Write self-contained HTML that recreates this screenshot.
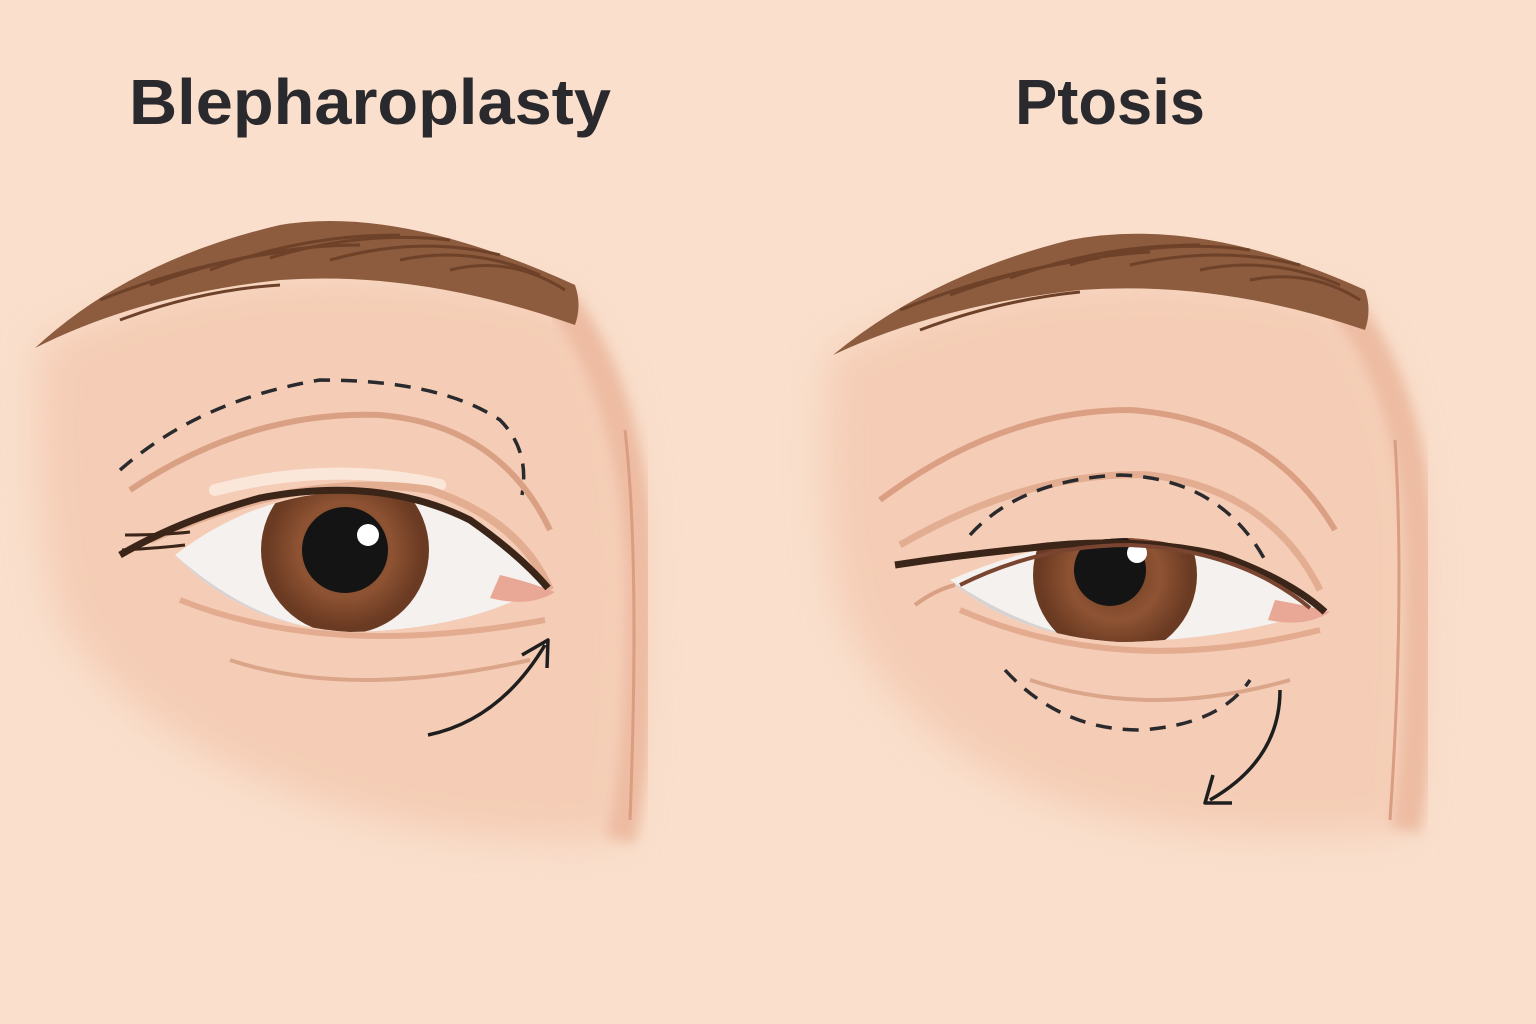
<!DOCTYPE html>
<html><head><meta charset="utf-8"><style>
html,body{margin:0;padding:0;background:#f9dfcc;}
svg{display:block}
</style></head><body>
<svg width="1536" height="1024" viewBox="0 0 1536 1024" xmlns="http://www.w3.org/2000/svg">
<defs>
<filter id="blur" x="-20%" y="-20%" width="140%" height="140%"><feGaussianBlur stdDeviation="18"/></filter>
<filter id="blur2"><feGaussianBlur stdDeviation="6"/></filter>
<radialGradient id="iris" cx="50%" cy="50%" r="50%">
<stop offset="0" stop-color="#6b3a22"/><stop offset="0.6" stop-color="#8e5333"/><stop offset="1" stop-color="#6a3a22"/>
</radialGradient>
<clipPath id="eyeL"><path d="M175,555 Q260,490 360,492 Q470,500 545,585 Q470,630 350,632 Q240,625 175,555Z"/></clipPath>
<clipPath id="eyeR"><path d="M950,580 Q1040,540 1130,538 Q1230,545 1320,610 Q1230,640 1120,642 Q1010,635 950,580Z"/></clipPath>
</defs>
<rect width="1536" height="1024" fill="#f9dfcc"/>
<text x="370" y="124" font-family="Liberation Sans, sans-serif" font-size="64" fill="#2a2a2e" text-anchor="middle" font-weight="bold" textLength="482" lengthAdjust="spacingAndGlyphs">Blepharoplasty</text>
<text x="1110" y="124" font-family="Liberation Sans, sans-serif" font-size="64" fill="#2a2a2e" text-anchor="middle" font-weight="bold" textLength="190" lengthAdjust="spacingAndGlyphs">Ptosis</text>

<!-- LEFT FACE -->
<path d="M40,345 Q250,230 560,300 Q635,380 640,560 Q640,760 620,840 Q420,850 260,780 Q120,720 60,620 Q30,520 40,345Z" fill="#f5cdb6" filter="url(#blur)"/>
<path d="M560,300 Q635,400 640,580 Q640,760 620,840" fill="none" stroke="#edbca2" stroke-width="30" filter="url(#blur2)"/>
<path d="M625,430 Q640,560 630,820" fill="none" stroke="#d99d82" stroke-width="3"/>
<path d="M35,348 Q130,260 280,225 Q400,205 575,285 Q582,305 575,325 Q420,270 280,280 Q140,295 35,348Z" fill="#8d5b3d"/>
<g stroke="#6e4129" stroke-width="3" fill="none">
<path d="M100,300 Q200,260 300,250"/><path d="M150,285 Q260,245 360,245"/><path d="M210,270 Q300,235 400,235"/>
<path d="M270,258 Q360,230 450,240"/><path d="M330,260 Q420,235 500,255"/><path d="M400,260 Q470,245 540,275"/>
<path d="M450,270 Q510,255 565,290"/><path d="M120,320 Q200,290 280,285"/>
</g>
<path d="M120,470 Q200,400 320,380 Q440,380 500,420 Q530,450 522,495" fill="none" stroke="#2a2a2e" stroke-width="3.5" stroke-dasharray="16 11"/>
<path d="M130,490 Q250,410 380,415 Q500,425 550,530" fill="none" stroke="#d9a084" stroke-width="6"/>
<path d="M215,490 Q330,460 440,485" fill="none" stroke="#fbe7da" stroke-width="12" stroke-linecap="round"/>
<path d="M150,540 Q300,470 430,490 Q520,520 550,590" fill="none" stroke="#e3ad92" stroke-width="8"/>
<path d="M175,555 Q260,490 360,492 Q470,500 545,585 Q470,630 350,632 Q240,625 175,555Z" fill="#f5f1ee"/>
<g clip-path="url(#eyeL)">
<path d="M175,555 Q260,630 350,632 Q470,630 545,585 L545,640 L175,640Z" fill="#d9d2d2"/>
<circle cx="345" cy="550" r="84" fill="#6a3a22"/>
<circle cx="345" cy="550" r="78" fill="url(#iris)"/>
<circle cx="345" cy="550" r="43" fill="#141414"/>
<circle cx="368" cy="535" r="11" fill="#ffffff"/>
</g>
<path d="M500,575 Q530,582 555,592 Q530,608 490,598Z" fill="#e9a896"/>
<path d="M120,555 Q180,520 260,498 Q380,475 470,520 Q520,555 548,588" fill="none" stroke="#3b2418" stroke-width="7"/>
<path d="M125,535 Q165,535 190,532 M122,550 Q160,548 185,545" stroke="#3b2418" stroke-width="3" fill="none"/>
<path d="M180,600 Q330,660 545,620" fill="none" stroke="#e3ac90" stroke-width="6"/>
<path d="M230,660 Q350,700 530,660" fill="none" stroke="#dba58a" stroke-width="4"/>
<path d="M428,735 Q500,720 545,645" fill="none" stroke="#1e1e1e" stroke-width="3.5"/>
<path d="M522,655 L548,640 L547,668" fill="none" stroke="#1e1e1e" stroke-width="3.5" stroke-linejoin="round"/>

<!-- RIGHT FACE -->
<path d="M830,355 Q1050,240 1340,300 Q1420,400 1420,560 Q1420,760 1405,830 Q1200,850 1050,800 Q900,740 845,620 Q815,520 830,355Z" fill="#f5cdb6" filter="url(#blur)"/>
<path d="M1340,300 Q1420,400 1420,580 Q1420,760 1405,830" fill="none" stroke="#edbca2" stroke-width="30" filter="url(#blur2)"/>
<path d="M1395,440 Q1405,600 1390,820" fill="none" stroke="#d99d82" stroke-width="3"/>
<path d="M833,355 Q930,275 1070,240 Q1200,215 1365,290 Q1372,310 1365,330 Q1220,280 1080,290 Q940,305 833,355Z" fill="#8d5b3d"/>
<g stroke="#6e4129" stroke-width="3" fill="none">
<path d="M900,310 Q1000,270 1100,258"/><path d="M950,295 Q1050,258 1150,252"/><path d="M1010,278 Q1100,245 1200,245"/>
<path d="M1070,265 Q1160,238 1250,250"/><path d="M1130,265 Q1220,245 1300,265"/><path d="M1200,270 Q1270,255 1340,285"/>
<path d="M1250,280 Q1310,268 1360,300"/><path d="M920,330 Q1000,300 1080,292"/>
</g>
<path d="M880,500 Q1000,410 1130,410 Q1270,420 1335,530" fill="none" stroke="#dba084" stroke-width="6"/>
<path d="M900,545 Q1030,470 1150,475 Q1270,490 1320,590" fill="none" stroke="#e3ad92" stroke-width="7"/>
<path d="M970,535 Q1020,480 1120,475 Q1220,478 1265,560" fill="none" stroke="#2a2a2e" stroke-width="3.5" stroke-dasharray="16 11"/>
<path d="M950,580 Q1040,540 1130,538 Q1230,545 1320,610 Q1230,640 1120,642 Q1010,635 950,580Z" fill="#f5f1ee"/>
<g clip-path="url(#eyeR)">
<path d="M950,580 Q1040,640 1120,642 Q1230,640 1320,610 L1320,650 L950,650Z" fill="#d9d2d2"/>
<circle cx="1115" cy="575" r="82" fill="#6a3a22"/>
<circle cx="1115" cy="575" r="76" fill="url(#iris)"/>
<circle cx="1110" cy="570" r="36" fill="#141414"/>
<circle cx="1137" cy="553" r="10" fill="#ffffff"/>
</g>
<path d="M1275,600 Q1305,605 1330,612 Q1305,628 1268,620Z" fill="#e9a896"/>
<path d="M895,565 Q960,555 1030,548 Q1130,535 1220,555 Q1290,580 1325,612" fill="none" stroke="#3b2418" stroke-width="7"/>
<path d="M960,585 Q1040,545 1130,545 Q1240,550 1310,608" fill="none" stroke="#7a4530" stroke-width="4"/>
<path d="M915,605 Q935,590 955,585" fill="none" stroke="#d9a084" stroke-width="4"/>
<path d="M960,610 Q1120,680 1320,630" fill="none" stroke="#e3ac90" stroke-width="6"/>
<path d="M1030,680 Q1150,720 1290,680" fill="none" stroke="#dba58a" stroke-width="4"/>
<path d="M1005,670 Q1060,730 1140,730 Q1220,725 1250,680" fill="none" stroke="#2a2a2e" stroke-width="3.5" stroke-dasharray="16 11"/>
<path d="M1280,690 Q1280,760 1210,800" fill="none" stroke="#1e1e1e" stroke-width="3.5"/>
<path d="M1213,775 L1205,803 L1232,803" fill="none" stroke="#1e1e1e" stroke-width="3.5" stroke-linejoin="round"/>
</svg>
</body></html>
